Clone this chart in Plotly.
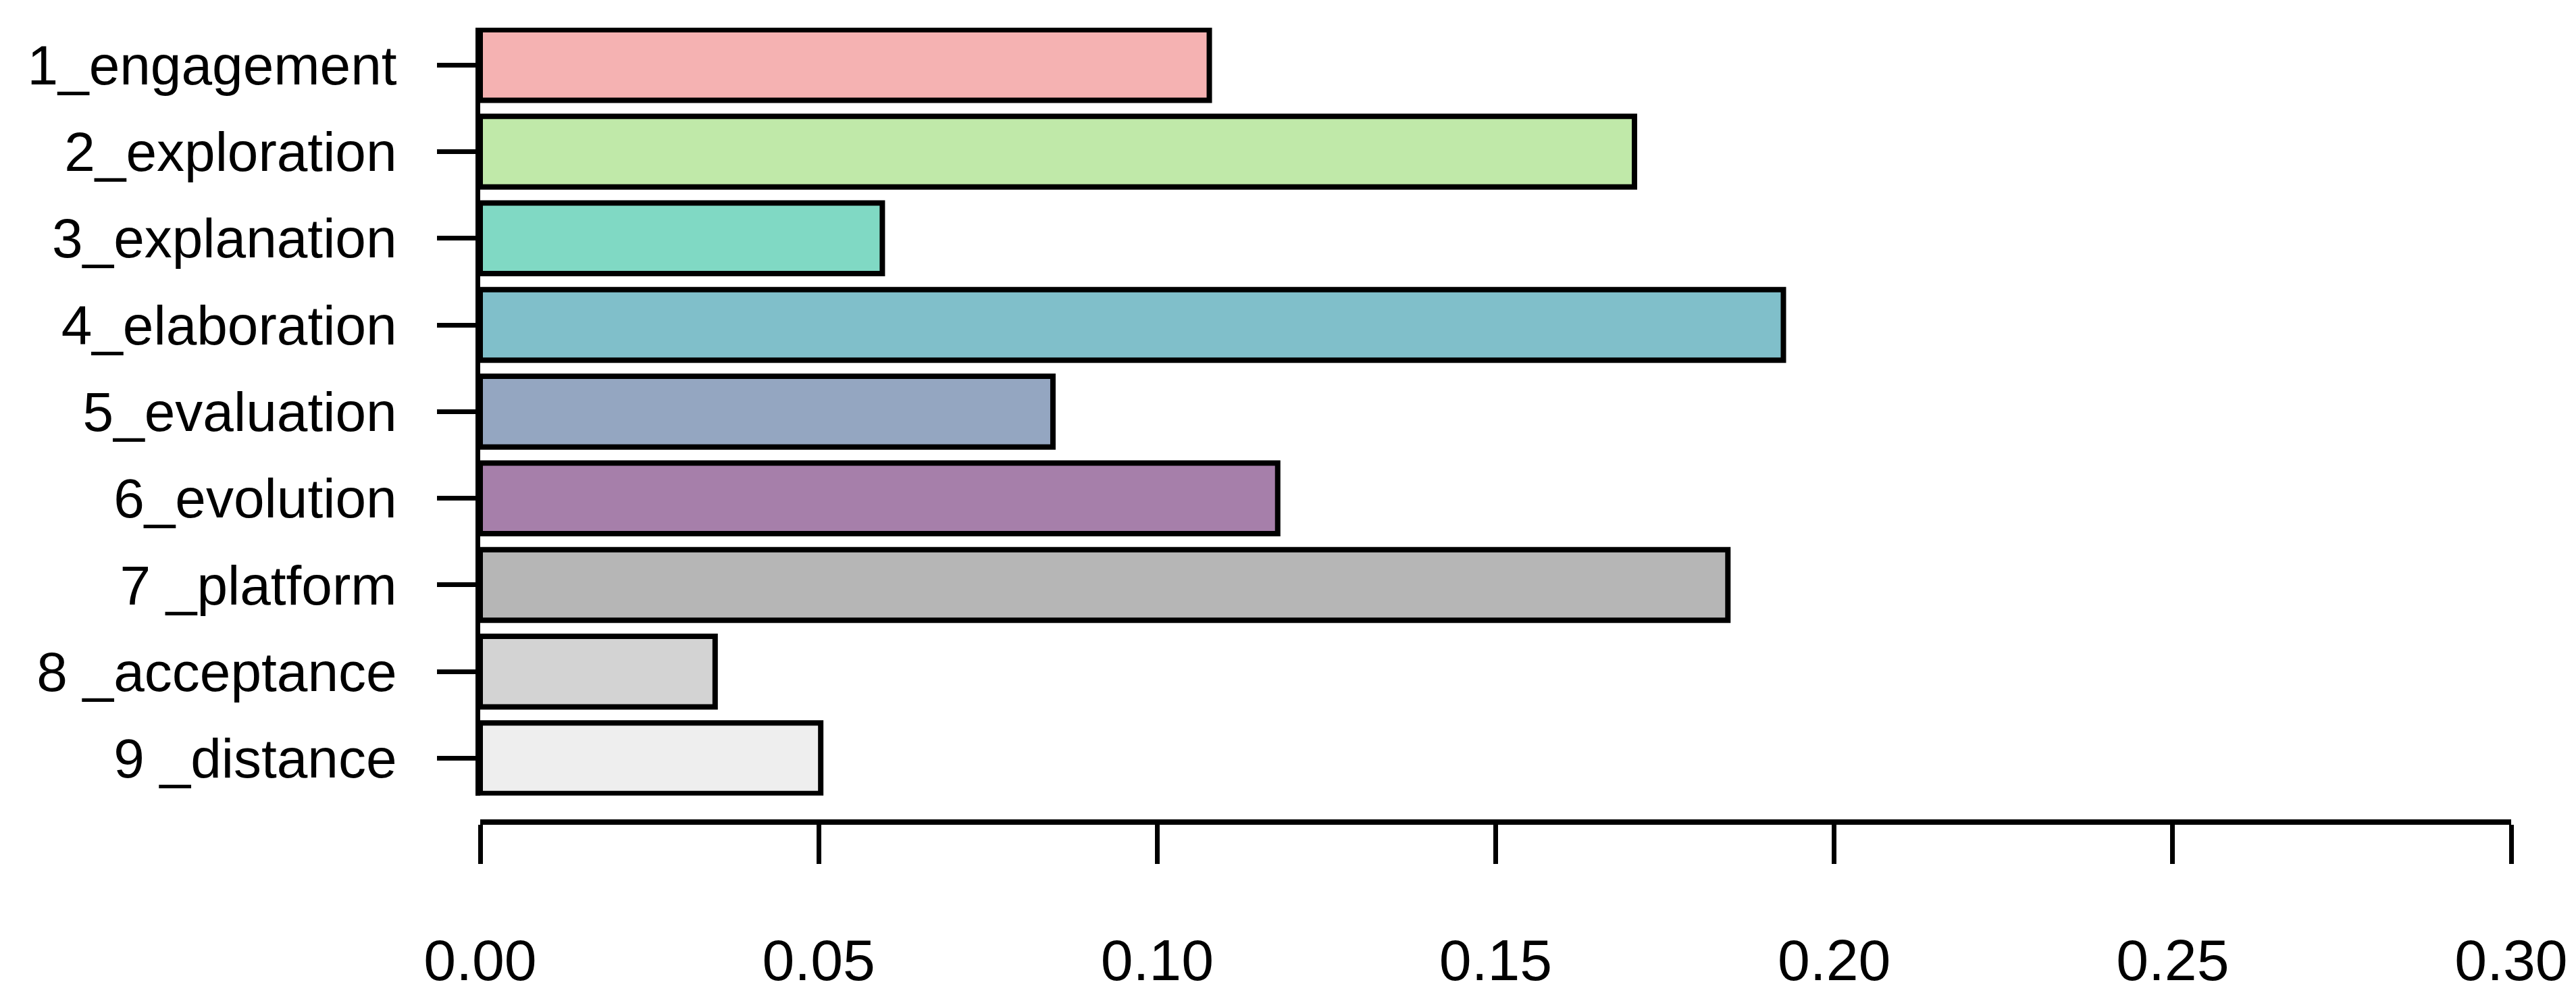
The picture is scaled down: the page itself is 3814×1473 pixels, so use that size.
import plotly.graph_objects as go

categories = ["1_engagement", "2_exploration", "3_explanation", "4_elaboration",
              "5_evaluation", "6_evolution", "7 _platform", "8 _acceptance", "9 _distance"]
values = [0.1077, 0.1705, 0.0594, 0.1925, 0.0846, 0.1178, 0.1843, 0.0347, 0.0503]
colors = ["#F5B2B2", "#C0E9A9", "#80D9C4", "#80BFCA", "#94A6C1",
          "#A67FAA", "#B6B6B6", "#D3D3D3", "#EEEEEE"]
x_ticks = [0.00, 0.05, 0.10, 0.15, 0.20, 0.25, 0.30]
x_ticklabels = ["0.00", "0.05", "0.10", "0.15", "0.20", "0.25", "0.30"]

FONT = "Liberation Sans, Arial, Helvetica, sans-serif"

fig = go.Figure(go.Bar(
    x=values, y=categories, orientation="h",
    marker=dict(color=colors, line=dict(color="black", width=8)),
    width=0.815,
))

fig.update_layout(
    width=3814, height=1473,
    margin=dict(l=703, r=104, t=33, b=259),
    paper_bgcolor="white", plot_bgcolor="white",
    showlegend=False,
    font=dict(family=FONT, size=84, color="black"),
    xaxis=dict(
        range=[0, 0.30], tickvals=x_ticks, ticktext=x_ticklabels,
        showgrid=False, zeroline=False,
        showline=True, linecolor="black", linewidth=8,
        ticks="outside", ticklen=58, tickwidth=7, tickcolor="black",
        anchor="free", position=0,
        ticklabelstandoff=69,
        tickfont=dict(family=FONT, size=86, color="black"),
    ),
    yaxis=dict(
        domain=[0.0334, 1],
        range=[8.43, -0.43],
        categoryorder="array", categoryarray=categories,
        showgrid=False, zeroline=False,
        showline=True, linecolor="black", linewidth=7,
        ticks="outside", ticklen=57, tickwidth=7, tickcolor="black",
        ticklabelstandoff=43,
        tickfont=dict(family=FONT, size=82, color="black"),
    ),
)

fig.write_html("out.html")
